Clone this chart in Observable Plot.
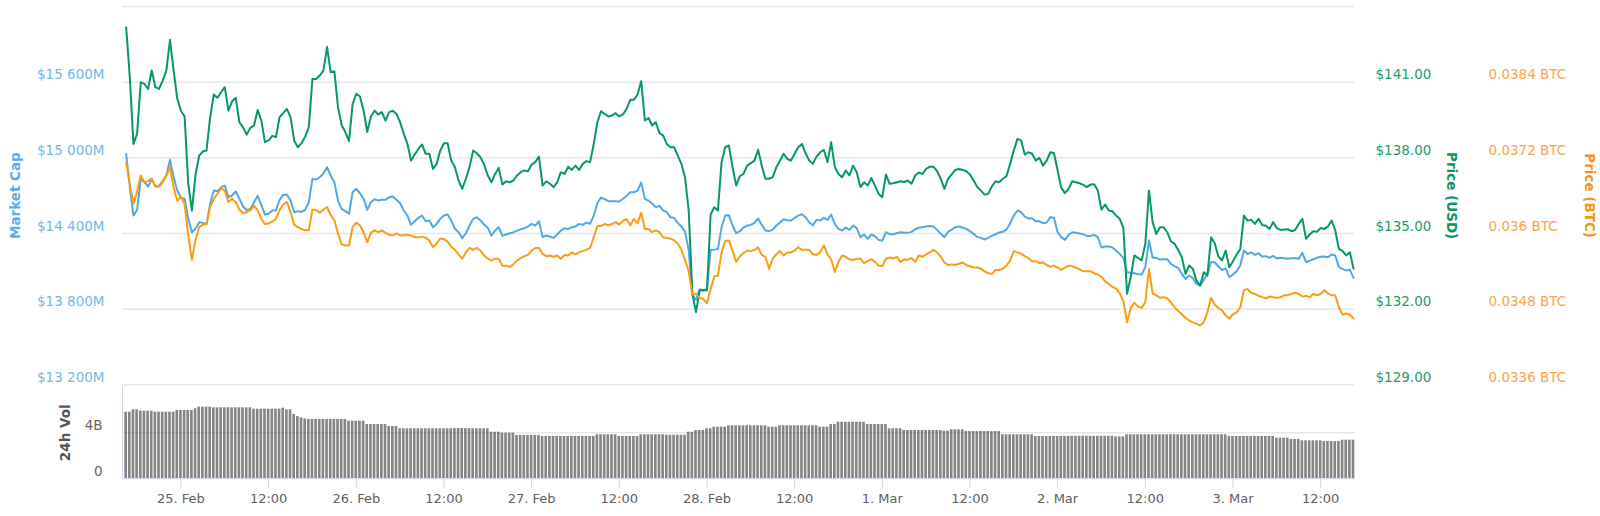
<!DOCTYPE html>
<html><head><meta charset="utf-8">
<script src="https://cdn.jsdelivr.net/npm/d3@7"></script>
<script src="https://cdn.jsdelivr.net/npm/@observablehq/plot@0.6"></script>
<style>
html,body{margin:0;padding:0;background:#fff;}
#chart{position:relative;width:1600px;height:516px;font-family:"DejaVu Sans",sans-serif;}
#chart svg{position:absolute !important;left:0;top:0;background:transparent !important;overflow:visible;max-width:none !important;}
</style></head><body><div id="chart"></div>
<script>
// ---- Data (30-minute samples, Feb 24 16:30 UTC -> Mar 3 16:30 UTC) ----
const priceUsd = [
143.18,141.20,138.55,138.95,141.00,140.93,140.73,141.46,140.80,140.73,141.06,141.46,142.68,141.46,140.34,139.87,
139.64,136.97,135.91,137.34,138.09,138.25,138.29,139.61,140.51,140.38,140.60,140.80,139.87,140.24,140.38,139.41,139.21,138.92,139.19,139.28,139.90,139.48,138.62,138.69,
138.87,138.82,139.61,139.77,139.94,139.61,138.69,138.42,138.58,138.84,139.21,141.13,141.13,141.26,141.46,142.39,141.39,141.43,140.01,139.29,139.02,138.66,140.14,140.54,
140.43,139.87,139.02,139.64,139.87,139.72,139.81,139.48,139.81,139.87,139.74,139.41,138.95,138.55,137.89,138.13,138.35,138.53,138.16,138.16,137.56,137.76,138.29,138.58,
138.58,137.89,137.63,137.10,136.77,137.17,137.63,138.29,138.18,138.02,137.73,137.30,137.03,137.36,137.60,136.94,137.07,137.03,137.10,137.30,137.43,137.50,137.47,137.73,
137.83,138.05,136.90,137.07,136.97,136.84,137.03,137.43,137.36,137.65,137.52,137.69,137.52,137.76,137.87,137.83,138.55,139.41,139.85,139.74,139.64,139.68,139.77,139.64,
139.72,139.94,140.30,140.30,140.51,141.04,139.48,139.58,139.28,139.41,138.98,138.88,138.55,138.42,138.42,138.09,137.76,137.23,135.91,132.61,131.88,132.74,132.76,132.74,
135.75,136.04,135.91,137.83,138.42,138.49,137.63,136.90,137.27,137.36,137.69,137.79,137.89,138.32,137.69,137.17,137.17,137.23,137.63,137.89,138.16,137.96,137.89,138.16,
138.42,138.55,138.18,137.89,137.76,138.05,138.22,138.32,137.83,138.62,137.63,137.36,137.23,137.50,137.30,137.69,137.43,136.84,137.03,136.90,137.20,136.90,136.57,136.44,
137.34,136.97,136.99,137.03,137.07,137.04,137.10,136.97,137.30,137.42,137.36,137.56,137.65,137.65,137.47,137.17,136.77,137.17,137.34,137.52,137.56,137.52,137.47,137.34,
137.10,136.84,136.70,136.54,136.57,136.87,137.07,137.03,137.17,137.27,137.76,138.29,138.75,138.69,138.13,138.22,138.16,137.89,138.00,137.69,137.89,138.22,138.18,137.50,
136.81,136.60,136.77,137.07,137.03,136.99,136.93,136.84,136.94,136.95,136.70,135.94,136.15,135.91,135.88,135.71,135.58,135.22,132.61,133.27,134.13,134.03,133.93,134.59,
136.70,135.45,134.98,135.25,135.25,135.05,134.69,134.59,134.35,134.06,133.40,133.73,133.60,133.13,132.94,133.46,133.33,134.85,134.61,134.09,133.93,134.32,133.66,133.90,
134.17,134.38,135.71,135.51,135.54,135.38,135.58,135.34,135.31,135.18,135.45,135.21,135.14,135.16,135.17,135.09,135.14,135.38,135.58,134.79,134.96,135.09,135.07,135.22,
135.18,135.28,135.51,135.12,134.39,134.30,134.13,134.26,133.60
];
const marketCapM = [
15031,14767,14542,14587,14833,14807,14772,14833,14772,14772,14807,14860,14984,14846,14741,14682,
14675,14516,14410,14437,14489,14484,14476,14635,14741,14735,14767,14780,14688,14701,14733,14675,14614,14587,14595,14648,14698,14627,14550,14556,
14582,14582,14667,14706,14709,14661,14569,14577,14571,14587,14648,14833,14828,14846,14873,14926,14860,14807,14661,14595,14577,14556,14727,14754,
14719,14675,14587,14648,14672,14661,14667,14667,14688,14693,14667,14640,14582,14542,14468,14497,14524,14542,14497,14503,14450,14476,14516,14542,
14550,14503,14437,14410,14363,14402,14463,14516,14529,14503,14471,14445,14384,14423,14450,14381,14392,14402,14408,14423,14434,14442,14455,14476,
14463,14497,14371,14384,14376,14365,14392,14423,14442,14434,14450,14455,14476,14468,14487,14476,14542,14640,14685,14672,14656,14656,14656,14653,
14675,14698,14727,14727,14741,14804,14675,14661,14635,14608,14619,14582,14569,14529,14524,14484,14455,14415,14265,13916,13874,13958,13948,13961,
14270,14270,14278,14450,14542,14545,14463,14402,14418,14447,14463,14468,14484,14519,14468,14423,14418,14431,14463,14487,14513,14505,14503,14524,
14542,14553,14529,14487,14466,14508,14503,14524,14508,14550,14476,14437,14423,14447,14429,14463,14442,14371,14392,14357,14392,14378,14349,14344,
14410,14394,14394,14402,14410,14405,14405,14413,14434,14445,14450,14455,14460,14455,14429,14397,14371,14413,14431,14450,14455,14445,14437,14418,
14397,14371,14365,14352,14365,14381,14394,14408,14413,14431,14482,14542,14582,14569,14534,14519,14521,14497,14497,14482,14487,14529,14524,14410,
14371,14349,14389,14410,14405,14400,14394,14381,14381,14389,14371,14289,14297,14297,14289,14265,14238,14207,14093,14088,14085,14077,14074,14133,
14344,14207,14207,14193,14196,14196,14159,14141,14125,14080,14040,14067,14045,14000,13987,14032,14080,14172,14172,14138,14111,14122,14053,14074,
14101,14146,14265,14238,14249,14230,14244,14217,14220,14207,14223,14201,14207,14204,14199,14204,14204,14199,14246,14172,14185,14196,14207,14215,
14217,14212,14233,14225,14133,14119,14106,14112,14048
];
const priceBtc = [
0.03713,0.03679,0.03647,0.03666,0.03692,0.03681,0.03683,0.03687,0.03675,0.03676,0.03683,0.03692,0.03705,0.03673,0.03652,0.03658,
0.03647,0.03597,0.03558,0.03590,0.03610,0.03614,0.03615,0.03642,0.03655,0.03663,0.03672,0.03668,0.03650,0.03655,0.03650,0.03638,0.03632,0.03634,0.03637,0.03644,0.03637,0.03623,0.03615,0.03616,
0.03619,0.03623,0.03637,0.03646,0.03650,0.03634,0.03614,0.03610,0.03607,0.03605,0.03605,0.03638,0.03637,0.03633,0.03638,0.03642,0.03629,0.03621,0.03600,0.03583,0.03581,0.03581,0.03610,0.03617,
0.03613,0.03602,0.03586,0.03601,0.03605,0.03602,0.03605,0.03601,0.03598,0.03597,0.03600,0.03597,0.03597,0.03598,0.03597,0.03594,0.03594,0.03595,0.03593,0.03589,0.03578,0.03584,0.03592,0.03591,
0.03587,0.03579,0.03574,0.03567,0.03560,0.03570,0.03577,0.03574,0.03577,0.03573,0.03565,0.03560,0.03557,0.03560,0.03560,0.03549,0.03549,0.03547,0.03551,0.03557,0.03561,0.03564,0.03566,0.03573,
0.03577,0.03577,0.03568,0.03564,0.03565,0.03563,0.03565,0.03560,0.03566,0.03565,0.03570,0.03567,0.03570,0.03572,0.03574,0.03577,0.03594,0.03612,0.03612,0.03615,0.03613,0.03615,0.03618,0.03614,
0.03620,0.03623,0.03613,0.03623,0.03616,0.03633,0.03607,0.03607,0.03602,0.03605,0.03602,0.03594,0.03593,0.03592,0.03589,0.03584,0.03574,0.03558,0.03540,0.03503,0.03504,0.03498,0.03496,0.03489,
0.03512,0.03532,0.03533,0.03570,0.03588,0.03589,0.03573,0.03555,0.03564,0.03569,0.03573,0.03572,0.03574,0.03578,0.03566,0.03563,0.03544,0.03560,0.03567,0.03572,0.03565,0.03570,0.03570,0.03573,
0.03578,0.03574,0.03574,0.03574,0.03567,0.03566,0.03570,0.03581,0.03567,0.03559,0.03539,0.03555,0.03565,0.03563,0.03559,0.03558,0.03560,0.03560,0.03553,0.03556,0.03559,0.03555,0.03549,0.03548,
0.03560,0.03562,0.03560,0.03563,0.03555,0.03559,0.03558,0.03561,0.03555,0.03565,0.03563,0.03567,0.03570,0.03574,0.03570,0.03563,0.03554,0.03550,0.03551,0.03550,0.03552,0.03554,0.03550,0.03548,
0.03546,0.03546,0.03544,0.03540,0.03537,0.03536,0.03542,0.03542,0.03544,0.03549,0.03557,0.03572,0.03570,0.03568,0.03564,0.03561,0.03556,0.03556,0.03553,0.03554,0.03550,0.03547,0.03549,0.03546,
0.03542,0.03546,0.03549,0.03548,0.03546,0.03543,0.03540,0.03540,0.03540,0.03537,0.03535,0.03531,0.03524,0.03520,0.03515,0.03513,0.03505,0.03493,0.03459,0.03482,0.03490,0.03484,0.03482,0.03491,
0.03544,0.03505,0.03502,0.03498,0.03499,0.03497,0.03491,0.03483,0.03477,0.03472,0.03466,0.03462,0.03459,0.03457,0.03454,0.03459,0.03475,0.03498,0.03487,0.03482,0.03478,0.03470,0.03465,0.03472,
0.03475,0.03483,0.03510,0.03512,0.03506,0.03504,0.03501,0.03499,0.03497,0.03500,0.03499,0.03498,0.03499,0.03502,0.03502,0.03504,0.03506,0.03504,0.03500,0.03501,0.03499,0.03504,0.03502,0.03504,
0.03510,0.03505,0.03502,0.03502,0.03483,0.03471,0.03473,0.03471,0.03465
];
const volumeB = [
5.79,5.79,6.00,6.00,5.88,5.88,5.88,5.88,5.79,5.79,5.79,5.79,5.79,5.79,5.94,5.94,
5.94,5.94,5.94,6.09,6.23,6.23,6.23,6.23,6.17,6.17,6.17,6.17,6.17,6.17,6.17,6.17,6.17,6.17,6.17,6.05,6.05,6.05,6.05,6.05,
6.05,6.05,6.05,6.14,6.00,6.00,5.60,5.42,5.30,5.20,5.16,5.16,5.16,5.16,5.16,5.16,5.16,5.16,5.16,5.16,5.16,5.01,5.01,5.01,
5.01,5.01,4.72,4.72,4.72,4.72,4.72,4.72,4.55,4.55,4.55,4.35,4.35,4.35,4.35,4.35,4.35,4.35,4.35,4.35,4.35,4.35,4.35,4.35,
4.35,4.35,4.37,4.37,4.37,4.37,4.35,4.35,4.35,4.35,4.35,4.35,4.05,4.05,4.05,3.97,3.97,3.97,3.97,3.77,3.77,3.77,3.77,3.77,
3.77,3.77,3.68,3.68,3.68,3.68,3.68,3.68,3.68,3.68,3.68,3.68,3.68,3.68,3.68,3.68,3.68,3.83,3.83,3.83,3.83,3.83,3.83,3.68,
3.68,3.68,3.68,3.68,3.68,3.83,3.83,3.83,3.83,3.83,3.83,3.83,3.79,3.79,3.79,3.79,3.79,3.79,4.05,4.05,4.20,4.20,4.20,4.35,
4.35,4.49,4.49,4.49,4.49,4.61,4.61,4.61,4.61,4.61,4.61,4.61,4.61,4.61,4.61,4.61,4.49,4.49,4.49,4.61,4.61,4.61,4.61,4.61,
4.61,4.61,4.61,4.61,4.61,4.61,4.49,4.49,4.49,4.72,4.72,4.92,4.92,4.92,4.92,4.92,4.92,4.92,4.92,4.72,4.72,4.72,4.72,4.72,
4.72,4.35,4.35,4.35,4.35,4.20,4.20,4.20,4.20,4.20,4.20,4.20,4.20,4.20,4.20,4.20,4.14,4.14,4.26,4.26,4.26,4.26,4.11,4.11,
4.11,4.11,4.11,4.11,4.11,4.11,4.11,4.11,3.83,3.83,3.83,3.83,3.83,3.83,3.83,3.83,3.83,3.68,3.68,3.68,3.68,3.68,3.68,3.68,
3.68,3.68,3.70,3.70,3.70,3.70,3.70,3.70,3.70,3.70,3.70,3.70,3.70,3.70,3.70,3.65,3.65,3.65,3.83,3.83,3.83,3.83,3.83,3.83,
3.83,3.83,3.83,3.83,3.83,3.83,3.83,3.83,3.83,3.83,3.83,3.83,3.83,3.83,3.83,3.83,3.83,3.83,3.83,3.83,3.83,3.83,3.68,3.68,
3.68,3.68,3.68,3.68,3.68,3.68,3.68,3.68,3.68,3.68,3.68,3.53,3.53,3.53,3.53,3.42,3.42,3.42,3.30,3.30,3.30,3.30,3.30,3.30,
3.24,3.24,3.24,3.24,3.24,3.36,3.36,3.36,3.36
];

// ---- Axis ticks and labels ----
const mcapGrid = [13200, 13800, 14400, 15000, 15600, 16200];
const mcapTicks = [13200, 13800, 14400, 15000, 15600];
const mcapTickLabels = ["$13 200M", "$13 800M", "$14 400M", "$15 000M", "$15 600M"];
const usdTicks = [129, 132, 135, 138, 141];
const usdTickLabels = ["$129.00", "$132.00", "$135.00", "$138.00", "$141.00"];
const btcTicks = [0.0336, 0.0348, 0.036, 0.0372, 0.0384];
const btcTickLabels = ["0.0336 BTC", "0.0348 BTC", "0.036 BTC", "0.0372 BTC", "0.0384 BTC"];
const volTicks = [0, 4];
const volTickLabels = ["0", "4B"];
const xTickTimes = ["2019-02-25T00:00Z","2019-02-25T12:00Z","2019-02-26T00:00Z","2019-02-26T12:00Z","2019-02-27T00:00Z","2019-02-27T12:00Z","2019-02-28T00:00Z","2019-02-28T12:00Z","2019-03-01T00:00Z","2019-03-01T12:00Z","2019-03-02T00:00Z","2019-03-02T12:00Z","2019-03-03T00:00Z","2019-03-03T12:00Z"].map(s => new Date(s));
const xTickLabels = ["25. Feb","12:00","26. Feb","12:00","27. Feb","12:00","28. Feb","12:00","1. Mar","12:00","2. Mar","12:00","3. Mar","12:00"];

// ---- Build ----
const START = Date.UTC(2019, 1, 24, 16, 30), STEP = 30 * 60 * 1000;
const rows = priceUsd.map((v, i) => ({t: new Date(START + i * STEP), usd: v, mcap: marketCapM[i], btc: priceBtc[i], vol: volumeB[i]}));
const xDomain = [new Date(Date.UTC(2019, 1, 24, 16, 0)), new Date(Date.UTC(2019, 2, 3, 16, 38))];
const chart = document.getElementById("chart");
const FONT = "'DejaVu Sans', sans-serif";
const mainM = {marginLeft: 122, marginRight: 246, marginTop: 6, marginBottom: 131.7};
const xLabel = new Map(xTickTimes.map((d, i) => [+d, xTickLabels[i]]));

function layer(opts) {
  const svg = Plot.plot({
    width: 1600, height: 516,
    x: {type: "utc", domain: xDomain, axis: null},
    style: {fontFamily: FONT, background: "transparent", overflow: "visible"},
    ...opts
  });
  chart.appendChild(svg);
}

// Market cap layer (with gridlines)
layer({...mainM, y: {domain: [13200, 16200], axis: null}, marks: [
  Plot.ruleY(mcapGrid, {stroke: "#e6e6e6", strokeWidth: 1.5}),
  Plot.line(rows, {x: "t", y: "mcap", stroke: "#52a8e3", strokeWidth: 2}),
  Plot.text(mcapTicks, {y: d => d, text: (d, i) => mcapTickLabels[i], frameAnchor: "left", textAnchor: "end", dx: -18, dy: -7, fill: "#74b7e9", fontSize: 13.5}),
  Plot.text(["Market Cap"], {text: d => d, frameAnchor: "left", textAnchor: "middle", dx: -107, rotate: -90, fill: "#58ade6", fontWeight: "bold", fontSize: 13.5})
]});

// Price USD layer
layer({...mainM, y: {domain: [129, 144], axis: null}, marks: [
  Plot.line(rows, {x: "t", y: "usd", stroke: "#06976a", strokeWidth: 2}),
  Plot.text(usdTicks, {y: d => d, text: (d, i) => usdTickLabels[i], frameAnchor: "right", textAnchor: "start", dx: 21, dy: -7, fill: "#1f9a6c", fontSize: 13.5}),
  Plot.text(["Price (USD)"], {text: d => d, frameAnchor: "right", textAnchor: "middle", dx: 97, rotate: 90, fill: "#0b9466", fontWeight: "bold", fontSize: 13.5})
]});

// Price BTC layer
layer({...mainM, y: {domain: [0.0336, 0.0396], axis: null}, marks: [
  Plot.line(rows, {x: "t", y: "btc", stroke: "#fb9c13", strokeWidth: 2}),
  Plot.text(btcTicks, {y: d => d, text: (d, i) => btcTickLabels[i], frameAnchor: "right", textAnchor: "start", dx: 134, dy: -7, fill: "#f9a44c", fontSize: 13.5}),
  Plot.text(["Price (BTC)"], {text: d => d, frameAnchor: "right", textAnchor: "middle", dx: 235, rotate: 90, fill: "#f7931a", fontWeight: "bold", fontSize: 13.5})
]});

// Volume layer + x axis
layer({marginLeft: 122, marginRight: 246, marginTop: 386.3, marginBottom: 37.7, y: {domain: [0, 8], axis: null}, marks: [
  Plot.ruleY([4], {stroke: "#e6e6e6", strokeWidth: 1.5}),
  Plot.rect(rows, {x1: d => new Date(+d.t - STEP / 2), x2: d => new Date(+d.t + STEP / 2), y1: 0, y2: "vol", insetLeft: 0.5, insetRight: 0.5, fill: "#333", fillOpacity: 0.6}),
  Plot.ruleY([0], {stroke: "#ccd6eb"}),
  Plot.ruleX([xDomain[0]], {stroke: "#ccd6eb"}),
  Plot.text(volTicks, {y: d => d, text: (d, i) => volTickLabels[i], frameAnchor: "left", textAnchor: "end", dx: -20, dy: -7, fill: "#666", fontSize: 13.5}),
  Plot.text(["24h Vol"], {text: d => d, frameAnchor: "left", textAnchor: "middle", dx: -57, rotate: -90, fill: "#555", fontWeight: "bold", fontSize: 13.5}),
  Plot.axisX(xTickTimes, {anchor: "bottom", tickSize: 10, tickPadding: 5, stroke: "#ccd6eb", fill: "#606060", fontSize: 13, label: null, tickFormat: d => xLabel.get(+d)})
]});
</script></body></html>
